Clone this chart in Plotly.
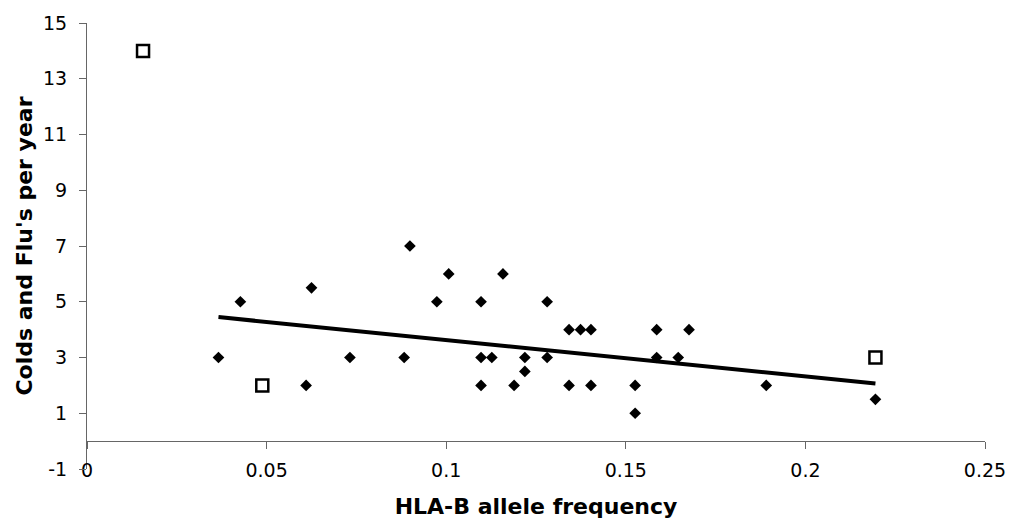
import plotly.graph_objects as go

# Diamonds: regular data points
pts_x = [0.0366, 0.0427, 0.0625, 0.061, 0.0732, 0.0883, 0.0899, 0.0974, 0.1007,
         0.1097, 0.1097, 0.1097, 0.1127, 0.1158, 0.1189, 0.1219, 0.1219, 0.1281,
         0.1281, 0.1342, 0.1342, 0.1374, 0.1403, 0.1403, 0.1526, 0.1526, 0.1586,
         0.1586, 0.1646, 0.1676, 0.1891, 0.2195]
pts_y = [3, 5, 5.5, 2, 3, 3, 7, 5, 6,
         5, 3, 2, 3, 6, 2, 3, 2.5, 5,
         3, 4, 2, 4, 4, 2, 2, 1, 4,
         3, 3, 4, 2, 1.5]

# Open squares: outliers
out_x = [0.0156, 0.0488, 0.2195]
out_y = [14, 2, 3]

# Trend line end points
trend_x = [0.0366, 0.2195]
trend_y = [4.45, 2.07]

y_ticks = [-1, 1, 3, 5, 7, 9, 11, 13, 15]
y_labels = ["-1", "1", "3", "5", "7", "9", "11", "13", "15"]
x_ticks = [0, 0.05, 0.1, 0.15, 0.2, 0.25]
x_labels = ["0", "0.05", "0.1", "0.15", "0.2", "0.25"]

FONT = "DejaVu Sans"
AX = "#666666"

fig = go.Figure()
fig.add_trace(go.Scatter(x=pts_x, y=pts_y, mode="markers",
                         marker=dict(symbol="diamond", size=9, color="black"),
                         showlegend=False, hoverinfo="x+y"))
fig.add_trace(go.Scatter(x=trend_x, y=trend_y, mode="lines",
                         line=dict(color="black", width=4),
                         showlegend=False, hoverinfo="skip"))
fig.add_trace(go.Scatter(x=out_x, y=out_y, mode="markers",
                         marker=dict(symbol="square", size=12, color="white",
                                     line=dict(color="black", width=2.5)),
                         showlegend=False, hoverinfo="x+y"))
# invisible trace to carry the axis line at y=0
fig.add_trace(go.Scatter(x=[x_ticks[0]], y=[0], xaxis="x2", mode="markers",
                         marker=dict(opacity=0), showlegend=False, hoverinfo="skip"))

fig.update_layout(
    width=1018, height=527,
    margin=dict(l=87, r=26, t=16, b=58),
    paper_bgcolor="white", plot_bgcolor="white",
    font=dict(family=FONT, color="black", size=19),
    xaxis=dict(range=[0, 0.25], tickvals=x_ticks, ticktext=x_labels,
               showgrid=False, zeroline=False, showline=False, ticks="",
               tickfont=dict(size=19, family=FONT), ticklabelstandoff=-12,
               title=dict(text="<b>HLA-B allele frequency</b>",
                          font=dict(size=22, family=FONT), standoff=18)),
    xaxis2=dict(range=[0, 0.25], overlaying="x", anchor="free",
                position=1 / 16, tickvals=x_ticks, showticklabels=False,
                showgrid=False, zeroline=False, showline=True, linecolor=AX,
                linewidth=1, ticks="outside", ticklen=7, tickcolor=AX, tickwidth=1),
    yaxis=dict(range=[-1, 15], tickvals=y_ticks, ticktext=y_labels,
               showgrid=False, zeroline=False,
               showline=True, linecolor=AX, linewidth=1, ticks="outside",
               ticklen=7, tickcolor=AX, tickwidth=1, ticklabelstandoff=8,
               tickfont=dict(size=19, family=FONT),
               title=dict(text="<b>Colds and Flu's per year</b>",
                          font=dict(size=22, family=FONT), standoff=4)),
)

fig.write_html("out.html")
